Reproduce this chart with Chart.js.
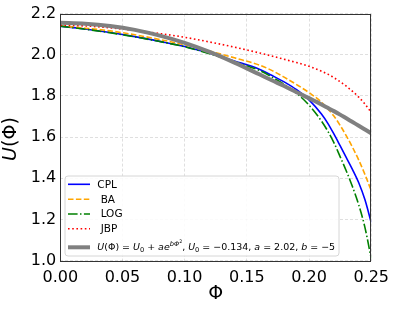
<!DOCTYPE html>
<html><head><meta charset="utf-8">
<script src="https://cdn.jsdelivr.net/npm/chart.js@4"></script>
<style>html,body{margin:0;padding:0;background:#fff}</style>
</head><body>
<canvas id="c" width="397" height="311" style="display:block;width:397px;height:311px"></canvas>
<script>
const phi = [0, 0.02, 0.04, 0.06, 0.08, 0.10, 0.12, 0.14, 0.16, 0.17, 0.18, 0.19, 0.20, 0.21, 0.215, 0.22, 0.225, 0.23, 0.235, 0.24, 0.245, 0.25];
const cpl = [2.139, 2.125, 2.108, 2.088, 2.065, 2.040, 2.007, 1.970, 1.930, 1.900, 1.868, 1.830, 1.781, 1.712, 1.668, 1.615, 1.558, 1.500, 1.442, 1.378, 1.295, 1.185];
const ba  = [2.140, 2.129, 2.116, 2.097, 2.074, 2.048, 2.018, 1.985, 1.950, 1.924, 1.891, 1.855, 1.816, 1.770, 1.738, 1.702, 1.657, 1.606, 1.550, 1.488, 1.418, 1.340];
const logv= [2.139, 2.124, 2.107, 2.087, 2.064, 2.039, 2.005, 1.966, 1.924, 1.892, 1.856, 1.813, 1.755, 1.678, 1.630, 1.573, 1.505, 1.435, 1.358, 1.270, 1.160, 1.010];
const jbp = [2.144, 2.140, 2.131, 2.118, 2.103, 2.085, 2.062, 2.037, 2.009, 1.994, 1.978, 1.962, 1.944, 1.920, 1.906, 1.889, 1.869, 1.847, 1.822, 1.794, 1.760, 1.720];
const fitU= [2.155, 2.151, 2.140, 2.121, 2.093, 2.058, 2.014, 1.962, 1.905, 1.876, 1.848, 1.818, 1.789, 1.758, 1.742, 1.726, 1.709, 1.691, 1.673, 1.655, 1.637, 1.618];
const seriesLabels = ['CPL', ' BA', ' LOG', ' JBP', 'fit'];
const xTicks = [0, 0.05, 0.10, 0.15, 0.20, 0.25];
const yTicks = [1.0, 1.2, 1.4, 1.6, 1.8, 2.0, 2.2];

const pts = arr => arr.map((v, i) => ({x: phi[i], y: v}));
const FONT = "'DejaVu Sans', sans-serif";

const datasets = [
  {label: seriesLabels[0], data: pts(cpl), borderColor: '#0000ff', borderWidth: 1.6, borderDash: [], order: 4},
  {label: seriesLabels[1], data: pts(ba), borderColor: '#ffa500', borderWidth: 1.6, borderDash: [5.5, 2.4], order: 3},
  {label: seriesLabels[2], data: pts(logv), borderColor: '#008000', borderWidth: 1.6, borderDash: [9.6, 2.4, 1.5, 2.4], order: 2},
  {label: seriesLabels[3], data: pts(jbp), borderColor: '#ff0000', borderWidth: 1.6, borderDash: [1.6, 2.6], order: 1},
  {label: seriesLabels[4], data: pts(fitU), borderColor: '#808080', borderWidth: 4, borderDash: [], order: 0}
];
datasets.forEach(d => { d.pointRadius = 0; d.fill = false; d.cubicInterpolationMode = 'monotone'; d.borderCapStyle = 'butt'; });

const framePlugin = {
  id: 'frame',
  afterDatasetsDraw(chart) {
    const {ctx, chartArea: a} = chart;
    ctx.save();
    ctx.strokeStyle = '#333';
    ctx.lineWidth = 1;
    ctx.strokeRect(Math.round(a.left) + 0.5, Math.round(a.top) + 0.5, Math.round(a.right - a.left) - 1, Math.round(a.bottom - a.top));
    ctx.restore();
  }
};

const legendPlugin = {
  id: 'mplLegend',
  afterDraw(chart) {
    const ctx = chart.ctx;
    const bx = 65, by = 176, bw = 274, bh = 80, r = 3;
    ctx.save();
    ctx.beginPath();
    ctx.moveTo(bx + r, by); ctx.lineTo(bx + bw - r, by); ctx.quadraticCurveTo(bx + bw, by, bx + bw, by + r);
    ctx.lineTo(bx + bw, by + bh - r); ctx.quadraticCurveTo(bx + bw, by + bh, bx + bw - r, by + bh);
    ctx.lineTo(bx + r, by + bh); ctx.quadraticCurveTo(bx, by + bh, bx, by + bh - r);
    ctx.lineTo(bx, by + r); ctx.quadraticCurveTo(bx, by, bx + r, by);
    ctx.closePath();
    ctx.fillStyle = 'rgba(255,255,255,0.85)';
    ctx.fill();
    ctx.strokeStyle = '#d6d6d6';
    ctx.lineWidth = 1;
    ctx.stroke();

    const rows = [184.3, 199.3, 214, 228.7, 247.3];
    chart.data.datasets.forEach((d, i) => {
      const y = rows[i];
      ctx.beginPath();
      ctx.setLineDash(d.borderDash || []);
      ctx.strokeStyle = d.borderColor;
      ctx.lineWidth = d.borderWidth;
      ctx.moveTo(68, y); ctx.lineTo(90, y);
      ctx.stroke();
      ctx.setLineDash([]);
      ctx.fillStyle = '#000';
      ctx.textBaseline = 'middle';
      ctx.textAlign = 'left';
      if (i < 4) {
        ctx.font = '10.5px ' + FONT;
        ctx.fillText(d.label, 97.3, y + 0.5);
      }
    });
    // math label
    const pieces = [
      {t: 'U', it: 1}, {t: '(Φ) = '}, {t: 'U', it: 1}, {t: '0', sub: 1}, {t: ' + '},
      {t: 'ae', it: 1}, {t: 'bΦ', it: 1, sup: 1}, {t: '2', sup2: 1}, {t: ', '},
      {t: 'U', it: 1}, {t: '0', sub: 1}, {t: ' = −0.134, '}, {t: 'a', it: 1},
      {t: ' = 2.02, '}, {t: 'b', it: 1}, {t: ' = −5'}
    ];
    const fontFor = (p, s) => {
      let size = s;
      if (p.sub || p.sup) size = s * 0.7;
      if (p.sup2) size = s * 0.5;
      return (p.it ? 'italic ' : '') + size + 'px ' + FONT;
    };
    const measure = s => pieces.reduce((w, p) => { ctx.font = fontFor(p, s); return w + ctx.measureText(p.t).width; }, 0);
    const base = 10;
    const size = base * 238 / measure(base);
    let x = 97.3;
    const y0 = rows[4] + 0.5;
    ctx.textBaseline = 'middle';
    pieces.forEach(p => {
      ctx.font = fontFor(p, size);
      let dy = 0;
      if (p.sub) dy = size * 0.25;
      if (p.sup) dy = -size * 0.4;
      if (p.sup2) dy = -size * 0.62;
      ctx.fillText(p.t, x, y0 + dy);
      x += ctx.measureText(p.t).width;
    });
    ctx.restore();
  }
};

const titlePlugin = {
  id: 'axisTitles',
  afterDraw(chart) {
    const ctx = chart.ctx;
    const a = chart.chartArea;
    ctx.save();
    ctx.fillStyle = '#000';
    ctx.textBaseline = 'middle';
    ctx.textAlign = 'center';
    ctx.font = '19px ' + FONT;
    ctx.fillText('Φ', (a.left + a.right) / 2, 294);
    // y title: U italic + (Φ)
    ctx.translate(11, (a.top + a.bottom) / 2 + 2);
    ctx.rotate(-Math.PI / 2);
    ctx.font = 'italic 19px ' + FONT;
    const w1 = ctx.measureText('U').width;
    ctx.font = '19px ' + FONT;
    const w2 = ctx.measureText('(Φ)').width;
    const start = -(w1 + w2) / 2;
    ctx.textAlign = 'left';
    ctx.font = 'italic 19px ' + FONT;
    ctx.fillText('U', start, 0);
    ctx.font = '19px ' + FONT;
    ctx.fillText('(Φ)', start + w1, 0);
    ctx.restore();
  }
};

new Chart(document.getElementById('c'), {
  type: 'line',
  data: {datasets},
  options: {
    responsive: false,
    animation: false,
    events: [],
    layout: {padding: {left: 0, right: 24.7, top: 11.5, bottom: 0}},
    plugins: {legend: {display: false}, tooltip: {enabled: false}},
    scales: {
      x: {
        type: 'linear', min: 0, max: 0.25,
        afterBuildTicks: s => { s.ticks = xTicks.map(v => ({value: v})); },
        afterFit: s => { s.height = 50.5; },
        ticks: {callback: v => v.toFixed(2), color: '#000', font: {family: FONT, size: 16}, padding: 8, maxRotation: 0},
        grid: {color: 'rgba(0,0,0,0.16)', lineWidth: 0.8, drawTicks: false},
        border: {display: false, dash: [3, 2]}
      },
      y: {
        type: 'linear', min: 1.0, max: 2.2,
        afterBuildTicks: s => { s.ticks = yTicks.map(v => ({value: v})); },
        afterFit: s => { s.width = 60.3; },
        ticks: {callback: v => v.toFixed(1), color: '#000', font: {family: FONT, size: 16}, padding: 4},
        grid: {color: 'rgba(0,0,0,0.16)', lineWidth: 0.8, drawTicks: false},
        border: {display: false, dash: [3, 2]}
      }
    }
  },
  plugins: [framePlugin, legendPlugin, titlePlugin]
});
</script>
</body></html>
